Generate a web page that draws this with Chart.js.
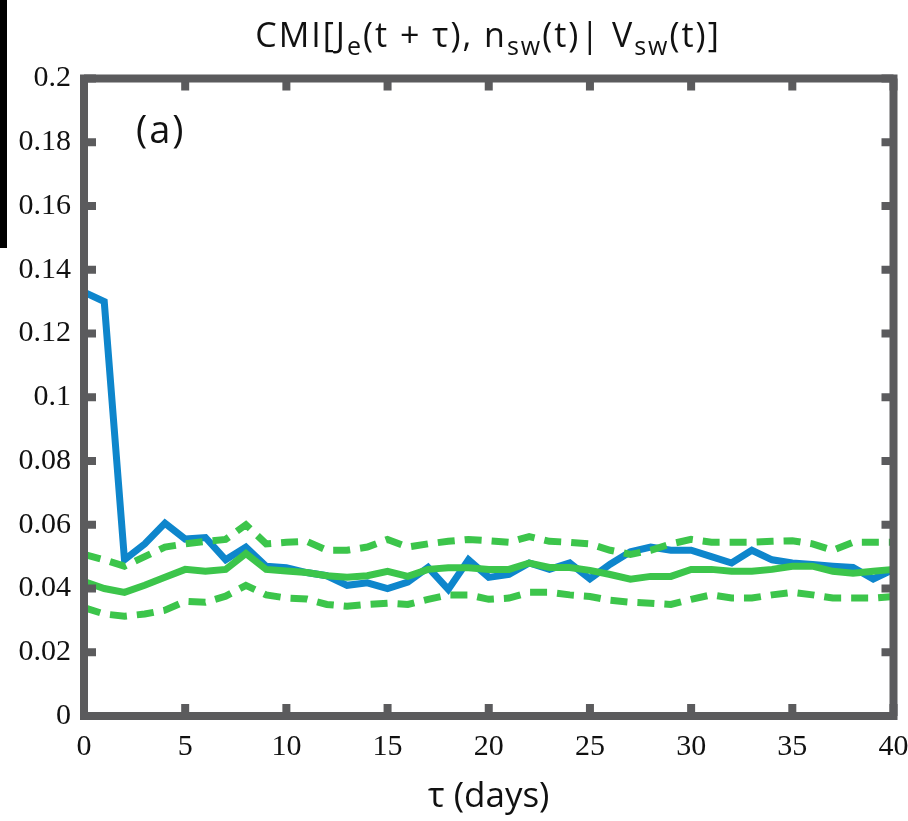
<!DOCTYPE html>
<html>
<head>
<meta charset="utf-8">
<script src="https://cdn.jsdelivr.net/npm/chart.js@4.4.1/dist/chart.umd.min.js"></script>
<style>
  html, body { margin: 0; padding: 0; background: #fff; }
  #wrap { position: relative; width: 908px; height: 821px; }
  #plot { position: absolute; left: 0; top: 0; }
  .title {
    position: absolute; left: 0; width: 976px; top: 14px; line-height: 40px;
    text-align: center; font-family: "Open Sans", sans-serif;
    font-size: 34px; color: #111; white-space: nowrap; letter-spacing: 2px;
  }
  .title sub { font-size: 25px; vertical-align: -8px; line-height: 0; }
  .panel {
    position: absolute; left: 136px; top: 109px; line-height: 38px;
    font-family: "Open Sans", sans-serif; font-size: 38px; color: #111; letter-spacing: 2px;
  }
  .edge { position: absolute; left: 0; top: 0; width: 7px; height: 248px; background: #000; }
</style>
</head>
<body>
<div id="wrap">
  <canvas id="plot" width="908" height="821"></canvas>
  <div class="edge"></div>
  <div class="title">CMI[J<sub>e</sub>(t + τ), n<sub>sw</sub>(t)| V<sub>sw</sub>(t)]</div>
  <div class="panel">(a)</div>
</div>
<script>
// lag in days
const tau = [0, 1, 2, 3, 4, 5, 6, 7, 8, 9, 10, 11, 12, 13, 14, 15, 16, 17, 18, 19, 20,
             21, 22, 23, 24, 25, 26, 27, 28, 29, 30, 31, 32, 33, 34, 35, 36, 37, 38, 39, 40];

// measured CMI (blue)
const cmi = [0.133, 0.130, 0.049, 0.054, 0.0605, 0.0555, 0.056, 0.049, 0.053, 0.047, 0.0465,
             0.045, 0.044, 0.041, 0.0418, 0.040, 0.042, 0.0466, 0.0397, 0.049, 0.0435,
             0.0444, 0.048, 0.046, 0.048, 0.043, 0.0476, 0.0515, 0.053, 0.052, 0.052,
             0.050, 0.048, 0.052, 0.049, 0.048, 0.0475, 0.047, 0.0466, 0.043, 0.046];

// surrogate mean (green solid) and +/- bands (green dashed)
const surMean = [0.0422, 0.040, 0.0388, 0.041, 0.0435, 0.046, 0.0454, 0.046, 0.051, 0.046, 0.0455,
                 0.045, 0.044, 0.0435, 0.044, 0.0454, 0.0438, 0.046, 0.0465, 0.0465, 0.046,
                 0.046, 0.048, 0.0466, 0.0466, 0.0457, 0.0444, 0.0429, 0.0438, 0.0438, 0.046,
                 0.046, 0.0454, 0.0454, 0.046, 0.047, 0.047, 0.0454, 0.0448, 0.0454, 0.046];
const surUpper = [0.0507, 0.049, 0.047, 0.050, 0.053, 0.054, 0.0548, 0.0554, 0.060, 0.054, 0.0545,
                  0.0548, 0.052, 0.052, 0.053, 0.0554, 0.053, 0.054, 0.0548, 0.0554, 0.055,
                  0.0545, 0.0563, 0.0548, 0.0545, 0.054, 0.052, 0.0507, 0.052, 0.054, 0.0554,
                  0.0545, 0.0545, 0.0545, 0.0548, 0.055, 0.054, 0.052, 0.0545, 0.0545, 0.0545];
const surLower = [0.034, 0.032, 0.0313, 0.032, 0.0332, 0.036, 0.0357, 0.0376, 0.041, 0.038, 0.037,
                  0.0367, 0.035, 0.0344, 0.035, 0.0354, 0.035, 0.0366, 0.038, 0.038, 0.0366,
                  0.037, 0.0388, 0.0388, 0.038, 0.0375, 0.0363, 0.0357, 0.0354, 0.035, 0.0366,
                  0.038, 0.037, 0.037, 0.038, 0.0388, 0.038, 0.037, 0.037, 0.037, 0.0375];

const xTicks = [0, 5, 10, 15, 20, 25, 30, 35, 40];
const yTicks = [0, 0.02, 0.04, 0.06, 0.08, 0.1, 0.12, 0.14, 0.16, 0.18, 0.2];

const BLUE = '#0e86cc';
const GREEN = '#3cc54b';
const FRAME = '#5b5b5d';

const pts = arr => tau.map((t, i) => ({ x: t, y: arr[i] }));

// MATLAB style box with inward ticks on all four sides
const boxFrame = {
  id: 'boxFrame',
  afterDatasetsDraw(chart) {
    const { ctx, chartArea: a, scales } = chart;
    ctx.save();
    ctx.fillStyle = FRAME;
    const tl = 12, tw = 8;
    xTicks.forEach(v => {
      const px = scales.x.getPixelForValue(v);
      ctx.fillRect(px - tw / 2, a.bottom - tl, tw, tl);
      ctx.fillRect(px - tw / 2, a.top, tw, tl);
    });
    yTicks.forEach(v => {
      const py = scales.y.getPixelForValue(v);
      ctx.fillRect(a.left, py - tw / 2, tl, tw);
      ctx.fillRect(a.right - tl, py - tw / 2, tl, tw);
    });
    ctx.strokeStyle = FRAME;
    ctx.lineWidth = 8;
    ctx.strokeRect(a.left, a.top, a.right - a.left, a.bottom - a.top);
    ctx.restore();
  }
};

new Chart(document.getElementById('plot'), {
  type: 'line',
  data: {
    datasets: [
      { data: pts(surUpper), borderColor: GREEN, borderWidth: 7, borderDash: [17, 10] },
      { data: pts(surLower), borderColor: GREEN, borderWidth: 7, borderDash: [17, 10] },
      { data: pts(surMean), borderColor: GREEN, borderWidth: 7 },
      { data: pts(cmi), borderColor: BLUE, borderWidth: 7 }
    ]
  },
  options: {
    responsive: false,
    animation: false,
    events: [],
    clip: false,
    elements: {
      point: { radius: 0 },
      line: { tension: 0, fill: false, borderJoinStyle: 'miter', borderCapStyle: 'butt' }
    },
    layout: { padding: { top: 78.5, right: 14.5, bottom: 0, left: 0 } },
    plugins: { legend: { display: false }, tooltip: { enabled: false } },
    scales: {
      x: {
        type: 'linear', min: 0, max: 40,
        afterFit: s => { s.height = 105; s.paddingLeft = 0; s.paddingRight = 0; },
        afterBuildTicks: s => { s.ticks = xTicks.map(v => ({ value: v })); },
        grid: { display: false, drawTicks: false }, border: { display: false },
        ticks: {
          color: '#111', padding: 13, maxRotation: 0,
          font: { family: '"Liberation Serif", "Times New Roman", serif', size: 30 }
        },
        title: {
          display: true, text: 'τ (days)', color: '#111',
          padding: { top: 0, bottom: 3 },
          font: { family: '"Open Sans", sans-serif', size: 35 }
        }
      },
      y: {
        type: 'linear', min: 0, max: 0.2,
        afterFit: s => { s.width = 84; s.paddingTop = 0; s.paddingBottom = 0; },
        afterBuildTicks: s => { s.ticks = yTicks.map(v => ({ value: v })); },
        grid: { display: false, drawTicks: false }, border: { display: false },
        ticks: {
          color: '#111', padding: 13,
          font: { family: '"Liberation Serif", "Times New Roman", serif', size: 30 },
          callback: v => String(Math.round(v * 100) / 100)
        }
      }
    }
  },
  plugins: [boxFrame]
});
</script>
</body>
</html>
